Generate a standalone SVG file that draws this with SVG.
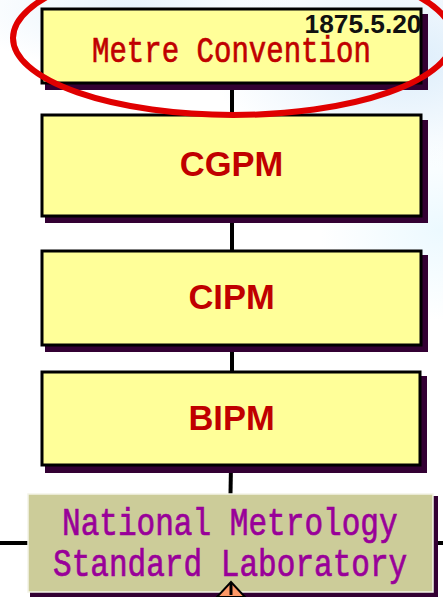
<svg xmlns="http://www.w3.org/2000/svg" width="443" height="597" viewBox="0 0 443 597">
<style>
.shadow{fill:#330033}
.box{fill:#ffff99;stroke:#000;stroke-width:3}
.lbl{font-family:"Liberation Sans",Arial,sans-serif;font-weight:700;fill:#c00000;font-size:34.500px;text-anchor:middle}
.mono{font-family:"Liberation Mono","Courier New",monospace;text-anchor:start;stroke-width:0.700}
.conn{stroke:#000;stroke-width:4;fill:none}
</style>
<defs>
<radialGradient id="bgA" cx="0.5" cy="0.5" r="0.5"><stop offset="0" stop-color="#dcedfb"/><stop offset="1" stop-color="#dcedfb" stop-opacity="0"/></radialGradient>
<radialGradient id="bgB" cx="0.5" cy="0.5" r="0.5"><stop offset="0" stop-color="#ecf9ff"/><stop offset="1" stop-color="#ecf9ff" stop-opacity="0"/></radialGradient>
</defs>
<rect width="443" height="597" fill="#fff"/>
<ellipse cx="400" cy="60" rx="190" ry="110" fill="url(#bgA)"/>
<ellipse cx="130" cy="10" rx="170" ry="60" fill="url(#bgA)" opacity="0.7"/>
<ellipse cx="440" cy="230" rx="120" ry="90" fill="url(#bgB)"/>
<g id="connectors">
<path class="conn" d="M232 83V115M232 216V251M232 345V372"/>
<path class="conn" d="M231 465L230.500 494"/>
<path class="conn" d="M0 543H29M433 543H443"/>
</g>
<g id="metre-convention">
<rect class="shadow" x="45" y="14" width="383" height="76"/>
<rect class="box" x="42" y="9" width="379" height="74"/>
<text transform="translate(92 62) scale(0.796 1)" class="mono" font-size="36.500" fill="#c00000" stroke="#c00000">Metre Convention</text>
<text x="363" y="33" font-family="Liberation Sans,Arial,sans-serif" font-weight="700" font-size="26.300px" fill="#111" text-anchor="middle">1875.5.20</text>
</g>
<g id="cgpm">
<rect class="shadow" x="45" y="120" width="383" height="103"/>
<rect class="box" x="42" y="115" width="379" height="101"/>
<text x="231.500" y="176" class="lbl">CGPM</text>
</g>
<g id="cipm">
<rect class="shadow" x="45" y="255" width="383" height="97"/>
<rect class="box" x="42" y="251" width="379" height="94"/>
<text x="231.500" y="309" class="lbl">CIPM</text>
</g>
<g id="bipm">
<rect class="shadow" x="45" y="376" width="382" height="97"/>
<rect class="box" x="42" y="372" width="378" height="93"/>
<text x="231.500" y="430" class="lbl">BIPM</text>
</g>
<g id="nml">
<rect class="shadow" x="30" y="496" width="408" height="101"/>
<rect x="28" y="494" width="405" height="98" fill="#cccc99" stroke="#f4f4e8" stroke-width="1.500"/>
<text transform="translate(62 535) scale(0.797 1)" class="mono" font-size="39" fill="#990099" stroke="#990099">National Metrology</text>
<text transform="translate(53 576) scale(0.797 1)" class="mono" font-size="39" fill="#990099" stroke="#990099">Standard Laboratory</text>
</g>
<g id="triangle">
<path d="M231 582L217 597H245Z" fill="#ff9966" stroke="#000" stroke-width="2"/>
<path d="M231 583V595" stroke="#000" stroke-width="3"/>
</g>
<ellipse id="highlight" cx="233" cy="38" rx="220" ry="77" fill="none" stroke="#e00000" stroke-width="6"/>
</svg>
